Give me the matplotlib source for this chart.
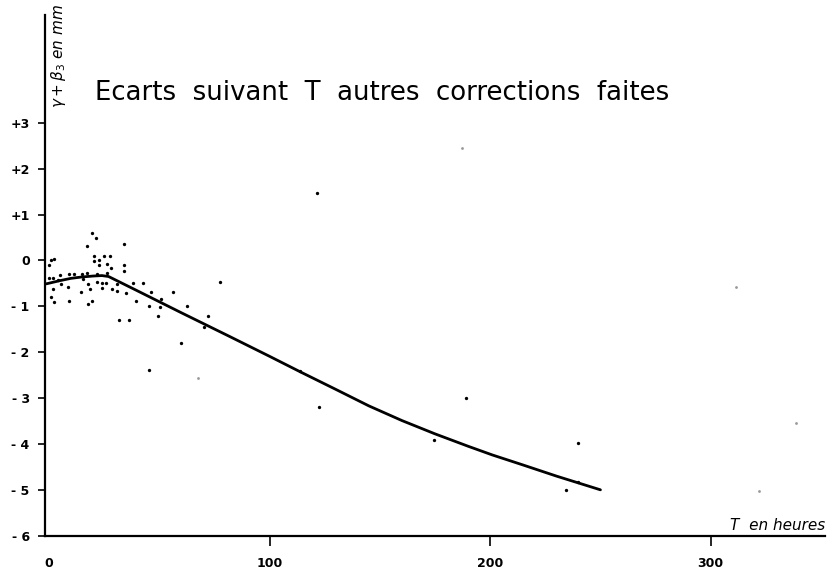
import numpy as np
import matplotlib
matplotlib.use('Agg')
import matplotlib.pyplot as plt

# values (T in hours, deviation in mm)
curve_t = [-1.2, 5, 10, 15, 20, 24, 27, 40, 60, 82, 100, 114, 130, 145,
           160, 175, 190, 201, 215, 230, 250]
curve_y = [-0.51, -0.44, -0.39, -0.36, -0.34, -0.33, -0.35, -0.66, -1.14,
           -1.66, -2.09, -2.43, -2.81, -3.17, -3.49, -3.78, -4.05, -4.24,
           -4.46, -4.70, -5.0]

pts_t = [0.0, 0.8, 2.4, 0.0, 1.9, 1.9, 0.9, 2.3, 3.9, 5.0, 5.4, 8.5, 9.2,
         11.3, 9.2, 14.5, 15.1, 15.5, 17.4, 19.4, 21.3, 17.4, 17.7, 18.6,
         17.7, 19.5, 20.4, 20.4, 22.8, 24.9, 27.7, 22.8, 26.2, 28.0, 21.6,
         21.6, 23.9, 25.8, 24.0, 26.2, 28.4, 31.0, 31.0, 34.0, 34.0, 34.0,
         34.9, 31.9, 36.4, 38.2, 39.3, 42.7, 45.3, 46.1, 45.3, 49.5, 50.3,
         50.8, 56.3, 59.8, 62.4, 70.3, 72.2, 77.5, 113.8,
         121.5, 122.4, 189.0, 174.5, 239.8, 234.4, 239.8]
pts_y = [-0.09, 0.02, 0.04, -0.38, -0.38, -0.62, -0.80, -0.91, -0.43, -0.32,
         -0.51, -0.57, -0.30, -0.30, -0.88, -0.69, -0.30, -0.40, 0.31, 0.60,
         0.48, -0.28, -0.51, -0.62, -0.96, -0.88, 0.09, -0.02, 0.02, 0.09,
         0.09, -0.09, -0.07, -0.17, -0.30, -0.47, -0.49, -0.49, -0.59, -0.28,
         -0.62, -0.67, -0.52, 0.35, -0.09, -0.23, -0.70, -1.30, -1.30, -0.49,
         -0.88, -0.50, -0.99, -0.68, -2.38, -1.21, -1.01, -0.83, -0.69, -1.80,
         -0.99, -1.46, -1.21, -0.47, -2.42,
         1.48, -3.2, -3.0, -3.91, -3.98, -5.0, -4.83]

# faint dots on the scan
faint_t = [67.7, 187.2, 311.4, 321.9, 338.6]
faint_y = [-2.57, 2.46, -0.57, -5.02, -3.54]

yticks = [3, 2, 1, 0, -1, -2, -3, -4, -5, -6]
ytick_labels = ['+3', '+2', '+1', '0', '- 1', '- 2', '- 3', '- 4', '- 5', '- 6']
xticks = [0, 100, 200, 300]
xtick_labels = ['0', '100', '200', '300']

fig = plt.figure(figsize=(8.31, 5.70), dpi=100)
ax = fig.add_axes([45/831, 34.3/570, 780/831, 520.7/570])

ax.plot(curve_t, curve_y, color='black', lw=2, solid_capstyle='round')
ax.plot(pts_t, pts_y, 'o', color='black', ms=2.4, mew=0)
ax.plot(faint_t, faint_y, 'o', color='#999999', ms=2.0, mew=0)

ax.set_xlim(-1.8, 351.8)
ax.set_ylim(-6, 5.35)

for s in ['top', 'right']:
    ax.spines[s].set_visible(False)
ax.spines['left'].set_linewidth(1.6)
ax.spines['bottom'].set_linewidth(1.6)

ax.set_yticks(yticks)
ax.set_yticklabels(ytick_labels, fontsize=9, fontweight='bold')
ax.set_xticks(xticks)
ax.set_xticklabels(xtick_labels, fontsize=9, fontweight='bold')
ax.tick_params(axis='y', direction='out', length=5, width=1.2, pad=6)
ax.tick_params(axis='x', direction='out', length=7, width=1.2, pad=8)
ax.xaxis.get_major_ticks()[0].tick1line.set_visible(False)

fig.text(95/831, 1 - 93/570, 'Ecarts  suivant  T  autres  corrections  faites',
         fontsize=18.7, ha='left', va='center')
fig.text(58/831, 1 - 4/570, r'$\gamma+\beta_3$' + ' en mm', rotation=90,
         fontsize=11, style='italic', ha='center', va='top')
ax.text(1.0, 0.005, 'T  en heures', transform=ax.transAxes, fontsize=11,
        style='italic', ha='right', va='bottom')

fig.savefig('out.png', dpi=100)
